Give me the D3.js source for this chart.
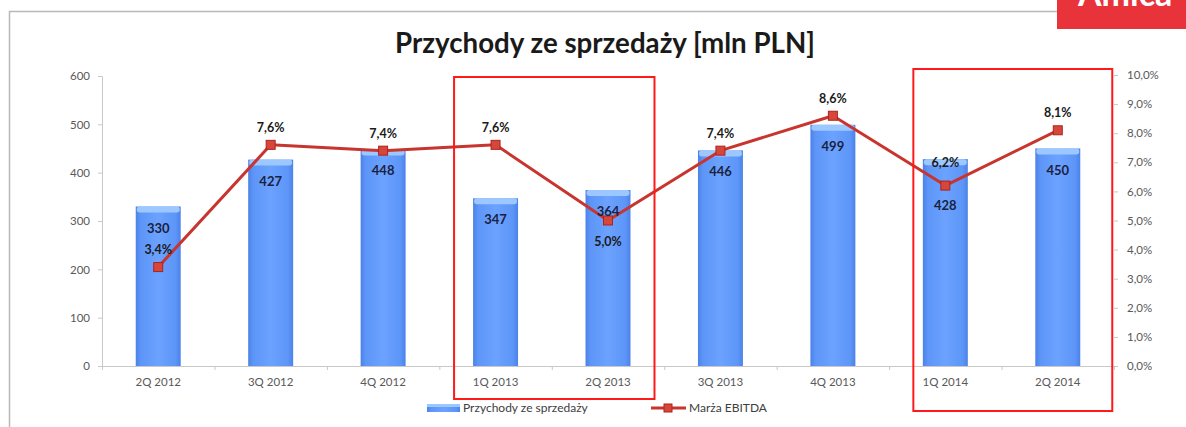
<!DOCTYPE html>
<html>
<head>
<meta charset="utf-8">
<script src="https://cdn.jsdelivr.net/npm/d3@7"></script>
<style>
  body { margin: 0; background: #fff; }
  svg text { font-family: Lato, "Open Sans", sans-serif; }
</style>
</head>
<body>
<div id="chart"></div>
<script>
// chart data
var quarters = ["2Q 2012", "3Q 2012", "4Q 2012", "1Q 2013", "2Q 2013",
                "3Q 2013", "4Q 2013", "1Q 2014", "2Q 2014"];
var revenue  = [330, 427, 448, 347, 364, 446, 499, 428, 450];
var margin   = [3.4, 7.6, 7.4, 7.6, 5.0, 7.4, 8.6, 6.2, 8.1];
// where each label sits: margin labels relative to the point,
// revenue labels inside the bar top or pushed under the point
var marginLabelPos  = ["above", "above", "above", "above", "below",
                       "above", "above", "high", "above"];
var revenueLabelPos = ["top", "top", "top", "top", "top",
                       "top", "top", "underPoint", "top"];
var leftTicks  = [0, 100, 200, 300, 400, 500, 600];
var rightTicks = [0, 1, 2, 3, 4, 5, 6, 7, 8, 9, 10];
// highlighted quarter ranges
var highlights = [["1Q 2013", "2Q 2013"], ["1Q 2014", "2Q 2014"]];

var W = 1186, H = 427;
var plotL = 102, plotR = 1114, plotT = 76, plotB = 366;

var svg = d3.select("#chart").append("svg")
  .attr("width",  W)
  .attr("height", H);

var defs = svg.append("defs");
var barGrad = defs.append("linearGradient")
  .attr("id", "barGrad")
  .attr("x1", "0").attr("x2", "1").attr("y1", "0").attr("y2", "0");
barGrad.append("stop").attr("offset", "0%").attr("stop-color", "#4d82e8");
barGrad.append("stop").attr("offset", "12%").attr("stop-color", "#5d96f8");
barGrad.append("stop").attr("offset", "50%").attr("stop-color", "#6ca2ff");
barGrad.append("stop").attr("offset", "88%").attr("stop-color", "#5d96f8");
barGrad.append("stop").attr("offset", "100%").attr("stop-color", "#4d82e8");

// outer frame
svg.append("rect")
  .attr("x", 9.5).attr("y", 11.5)
  .attr("width", 1300).attr("height", 500)
  .attr("fill", "none")
  .attr("stroke", "#b8b8b8")
  .attr("stroke-width", 1.5);

// logo badge (cut at the top)
svg.append("rect")
  .attr("x", 1057).attr("y", 0)
  .attr("width", W - 1057).attr("height", 29)
  .attr("fill", "#e8333a");
svg.append("text")
  .attr("x", 1078).attr("y", 6)
  .attr("font-size", 34)
  .attr("font-weight", "bold")
  .attr("fill", "#fff")
  .text("Amica");

// title, scaled to the width it takes in the picture
var title = svg.append("text")
  .attr("x", 605).attr("y", 53)
  .attr("text-anchor", "middle")
  .attr("font-size", 22)
  .attr("font-weight", "bold")
  .attr("fill", "#1a1a1a")
  .text("Przychody ze sprzedaży [mln PLN]");
var tw = title.node().getComputedTextLength();
title.attr("font-size", 22 * 420 / tw);

// scales
var x = d3.scaleBand()
  .domain(quarters)
  .range([plotL, plotR])
  .paddingInner(0.6)
  .paddingOuter(0.3);
var step = x.step();
var yL = d3.scaleLinear().domain([0, 600]).range([plotB, plotT]);
var yR = d3.scaleLinear().domain([0, 10]).range([plotB, plotT - 1]);

var fmtPct = function(v) { return d3.format(".1f")(v).replace(".", ",") + "%"; };
var cx = function(i) { return x(quarters[i]) + x.bandwidth() / 2; };

// left axis
var axL = svg.append("g")
  .attr("transform", "translate(" + plotL + ",0)")
  .call(d3.axisLeft(yL).tickValues(leftTicks).tickSize(4).tickPadding(8));
// right axis
var axR = svg.append("g")
  .attr("transform", "translate(" + plotR + ",0)")
  .call(d3.axisRight(yR).tickValues(rightTicks).tickSize(4).tickPadding(9)
        .tickFormat(fmtPct));
[axL, axR].forEach(function(ax) {
  ax.select(".domain").attr("stroke", "#c8c8c8");
  ax.selectAll(".tick line").attr("stroke", "#c8c8c8");
  ax.selectAll(".tick text")
    .attr("fill", "#595959")
    .attr("font-size", 11.5)
    .style("font-family", "Lato, sans-serif");
});
axR.select(".domain").remove();

// category axis
svg.append("line")
  .attr("x1", plotL).attr("x2", plotR)
  .attr("y1", plotB + 0.5).attr("y2", plotB + 0.5)
  .attr("stroke", "#c8c8c8");
d3.range(quarters.length + 1).forEach(function(i) {
  svg.append("line")
    .attr("x1", plotL + i * step + 0.5).attr("x2", plotL + i * step + 0.5)
    .attr("y1", plotB).attr("y2", plotB + 4)
    .attr("stroke", "#c8c8c8");
});
svg.selectAll(".cat")
  .data(quarters)
  .enter()
  .append("text")
  .attr("x", function(d) { return x(d) + x.bandwidth() / 2; })
  .attr("y", plotB + 20)
  .attr("text-anchor", "middle")
  .attr("font-size", 11.5)
  .attr("fill", "#595959")
  .text(function(d) { return d; });

// bars
var bars = svg.append("g");
quarters.forEach(function(q, i) {
  var bx = x(q), bw = x.bandwidth(), by = yL(revenue[i]);
  bars.append("rect")
    .attr("x", bx).attr("y", by)
    .attr("width", bw).attr("height", plotB - by)
    .attr("fill", "url(#barGrad)");
  bars.append("rect")
    .attr("x", bx + 1).attr("y", by)
    .attr("width", bw - 2).attr("height", 6)
    .attr("rx", 3)
    .attr("fill", "#9cc8ff");
});

// margin line
var line = d3.line()
  .x(function(d, i) { return cx(i); })
  .y(function(d) { return yR(d); });
svg.append("path")
  .datum(margin)
  .attr("d", line)
  .attr("fill", "none")
  .attr("stroke", "#c8342e")
  .attr("stroke-width", 3)
  .attr("stroke-linejoin", "round");
svg.selectAll(".mk")
  .data(margin)
  .enter()
  .append("rect")
  .attr("x", function(d, i) { return cx(i) - 4.5; })
  .attr("y", function(d) { return yR(d) - 4.5; })
  .attr("width", 9).attr("height", 9)
  .attr("fill", "#d8463a")
  .attr("stroke", "#a82420")
  .attr("stroke-width", 1);

// revenue labels
svg.selectAll(".rl")
  .data(revenue)
  .enter()
  .append("text")
  .attr("x", function(d, i) { return cx(i); })
  .attr("y", function(d, i) {
    return revenueLabelPos[i] === "top" ? yL(d) + 26 : yR(margin[i]) + 24;
  })
  .attr("text-anchor", "middle")
  .attr("font-size", 13)
  .attr("font-weight", "bold")
  .attr("fill", "#1b2140")
  .text(function(d) { return d; });

// margin labels
var labelShift = { above: -13, high: -19, below: 25 };
svg.selectAll(".ml")
  .data(margin)
  .enter()
  .append("text")
  .attr("x", function(d, i) { return cx(i); })
  .attr("y", function(d, i) { return yR(d) + labelShift[marginLabelPos[i]]; })
  .attr("text-anchor", "middle")
  .attr("font-size", 12.5)
  .attr("font-weight", "bold")
  .attr("fill", "#1a1a1a")
  .text(fmtPct);

// highlight boxes: [left offset, top, right offset, bottom]
var boxes = [[-19, 77, 24, 399], [-9.5, 69, 32, 411]];
highlights.forEach(function(h, i) {
  var b = boxes[i];
  var x0 = x(h[0]) + b[0], x1 = x(h[1]) + x.bandwidth() + b[2];
  svg.append("rect")
    .attr("x", x0).attr("y", b[1])
    .attr("width", x1 - x0).attr("height", b[3] - b[1])
    .attr("fill", "none")
    .attr("stroke", "#ff1a1a")
    .attr("stroke-width", 2);
});

// legend
var lg = svg.append("g").attr("transform", "translate(427,408)");
lg.append("rect")
  .attr("x", 0).attr("y", -4)
  .attr("width", 33).attr("height", 8)
  .attr("fill", "url(#barGrad)");
lg.append("rect")
  .attr("x", 0).attr("y", -4)
  .attr("width", 33).attr("height", 3)
  .attr("fill", "#9cc8ff");
lg.append("text")
  .attr("x", 36).attr("y", 4)
  .attr("font-size", 12)
  .attr("fill", "#404040")
  .text("Przychody ze sprzedaży");
lg.append("line")
  .attr("x1", 224).attr("x2", 259)
  .attr("y1", 0).attr("y2", 0)
  .attr("stroke", "#c8342e").attr("stroke-width", 3);
lg.append("rect")
  .attr("x", 237).attr("y", -4)
  .attr("width", 8).attr("height", 8)
  .attr("fill", "#d8463a").attr("stroke", "#a82420");
lg.append("text")
  .attr("x", 262).attr("y", 4)
  .attr("font-size", 12)
  .attr("fill", "#404040")
  .text("Marża EBITDA");
</script>
</body>
</html>
